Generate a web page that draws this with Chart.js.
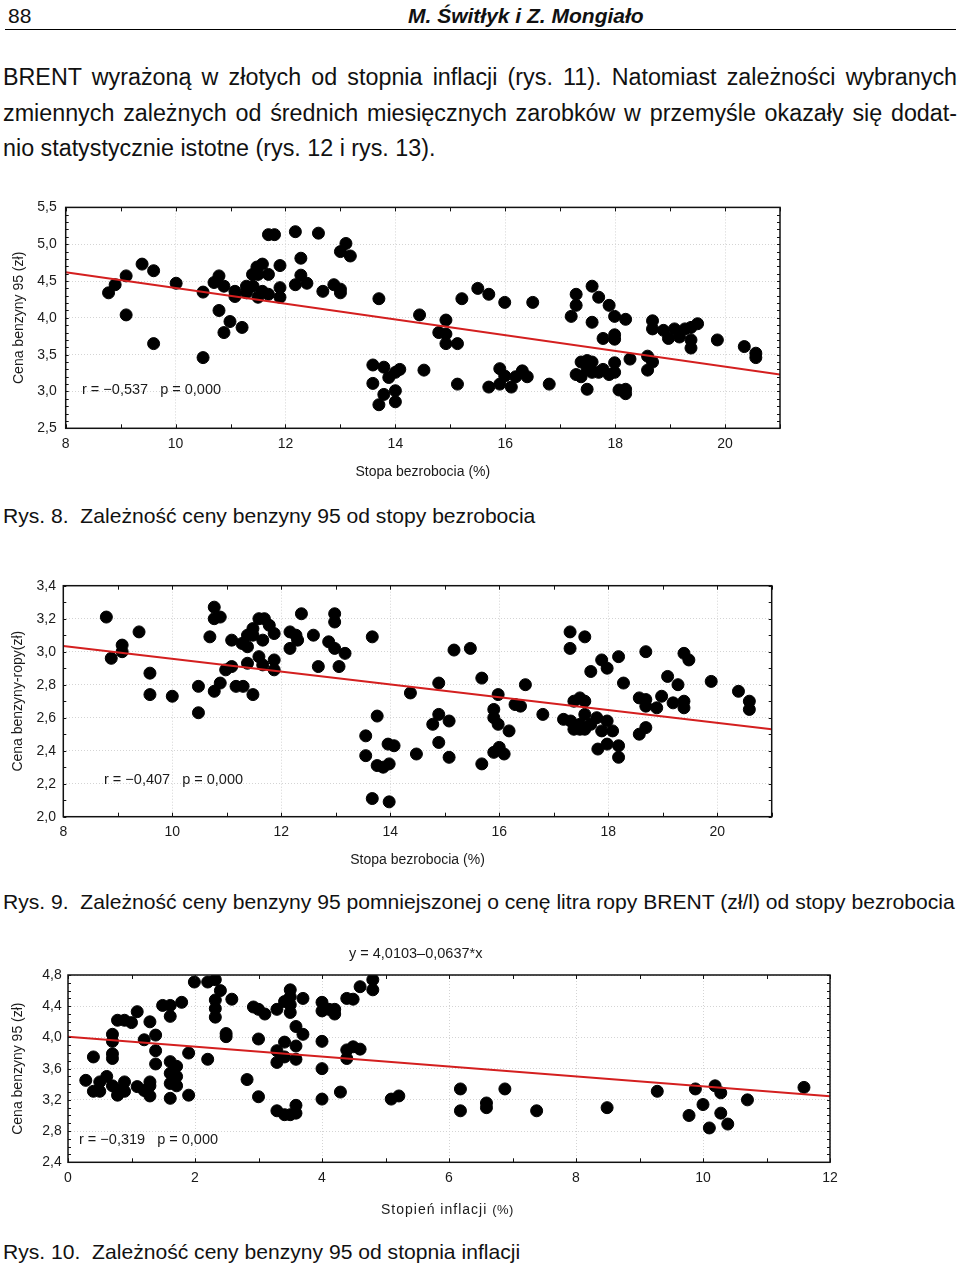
<!DOCTYPE html>
<html>
<head>
<meta charset="utf-8">
<script src="https://cdn.jsdelivr.net/npm/chart.js@4.4.1/dist/chart.umd.min.js"></script>
<style>
html, body { margin: 0; padding: 0; background: #fff; }
body { width: 960px; height: 1264px; position: relative; overflow: hidden; font-family: "Liberation Sans", Arial, sans-serif; color: #111; }
.abs { position: absolute; white-space: pre; }
#pageno { left: 8px; top: 4px; font-size: 21px; line-height: 24px; }
#running { left: 408px; top: 4px; font-size: 21px; line-height: 24px; font-weight: bold; font-style: italic; }
#rule { position: absolute; left: 5px; top: 29px; width: 951px; height: 0; border-top: 1.5px solid #000; }
.line { position: absolute; left: 3px; width: 954px; font-size: 23.3px; line-height: 26px; white-space: nowrap; }
.just { text-align: justify; text-align-last: justify; white-space: normal; }
.cap { font-size: 21.1px; line-height: 24px; left: 3px; }
.note { font-size: 14.5px; line-height: 16px; color: #1a1a1a; }
#xt10 { font-size: 14px; line-height: 16px; letter-spacing: 1px; color: #1a1a1a; }
#xt10 span { font-size: 13px; letter-spacing: 0.5px; }
canvas { position: absolute; }
</style>
</head>
<body>
<div class="abs" id="pageno">88</div>
<div class="abs" id="running">M. Świtłyk i Z. Mongiało</div>
<div id="rule"></div>

<div class="line just" style="top:64px">BRENT wyrażoną w złotych od stopnia inflacji (rys. 11). Natomiast zależności wybranych</div>
<div class="line just" style="top:100px">zmiennych zależnych od średnich miesięcznych zarobków w przemyśle okazały się dodat-</div>
<div class="line" style="top:135px">nio statystycznie istotne (rys. 12 i rys. 13).</div>

<canvas id="fig8" width="800" height="300" style="left:0;top:190px"></canvas>
<div class="abs note" style="left:82px;top:381px">r = −0,537   p = 0,000</div>
<div class="abs cap" style="top:504px">Rys. 8.  Zależność ceny benzyny 95 od stopy bezrobocia</div>

<canvas id="fig9" width="800" height="300" style="left:0;top:570px"></canvas>
<div class="abs note" style="left:104px;top:771px">r = −0,407   p = 0,000</div>
<div class="abs cap" style="top:890px">Rys. 9.  Zależność ceny benzyny 95 pomniejszonej o cenę litra ropy BRENT (zł/l) od stopy bezrobocia</div>

<canvas id="fig10" width="860" height="280" style="left:0;top:940px"></canvas>
<div class="abs note" style="left:349px;top:945px">y = 4,0103–0,0637*x</div>
<div class="abs note" style="left:79px;top:1131px">r = −0,319   p = 0,000</div>
<div class="abs" id="xt10" style="left:381px;top:1201px">Stopień inflacji <span>(%)</span></div>
<div class="abs cap" style="top:1240px">Rys. 10.  Zależność ceny benzyny 95 od stopnia inflacji</div>

<script>
// Rys. 8: stopa bezrobocia (%) vs cena benzyny 95 (zł)
const fig8Points = [
  [8.78,4.34],[8.90,4.45],[9.10,4.57],[9.10,4.04],[9.39,4.73],[9.60,4.64],[9.60,3.65],[10.01,4.47],
  [10.50,4.35],[10.50,3.46],[10.70,4.48],[10.79,4.57],[10.79,4.10],[10.88,4.43],[10.88,3.80],[10.99,3.95],
  [11.08,4.36],[11.08,4.29],[11.21,3.87],[11.29,4.43],[11.29,4.34],[11.41,4.43],[11.40,4.59],[11.48,4.69],
  [11.50,4.59],[11.50,4.28],[11.58,4.73],[11.58,4.36],[11.69,5.13],[11.80,5.13],[11.69,4.59],[11.69,4.32],
  [11.90,4.71],[11.90,4.41],[11.90,4.28],[12.18,5.17],[12.18,4.45],[12.28,4.81],[12.28,4.58],[12.39,4.47],
  [12.60,5.15],[12.68,4.36],[12.88,4.45],[13.00,4.39],[13.00,4.34],[13.00,4.90],[13.10,5.01],[13.18,4.84],
  [13.70,4.26],[13.59,3.36],[13.59,3.11],[13.79,3.33],[13.88,3.19],[13.79,2.96],[13.70,2.82],[14.00,3.26],
  [14.08,3.30],[14.00,3.01],[14.00,2.86],[14.44,4.04],[14.52,3.29],[14.79,3.80],[14.92,3.97],[14.92,3.78],
  [14.92,3.65],[15.13,3.65],[15.13,3.10],[15.21,4.26],[15.50,4.40],[15.70,4.32],[15.70,3.06],[15.99,4.21],
  [15.90,3.31],[15.99,3.21],[15.90,3.10],[16.11,3.06],[16.19,3.20],[16.31,3.28],[16.40,3.20],[16.50,4.21],
  [16.80,3.10],[17.20,4.02],[17.29,4.32],[17.29,4.17],[17.29,3.23],[17.38,3.20],[17.38,3.40],[17.49,3.42],
  [17.49,3.30],[17.49,3.03],[17.58,4.43],[17.58,3.94],[17.58,3.40],[17.58,3.26],[17.70,4.28],[17.70,3.26],
  [17.78,3.72],[17.78,3.30],[17.89,4.17],[17.89,3.23],[17.99,4.02],[17.99,3.77],[17.99,3.71],[17.99,3.39],
  [17.99,3.26],[18.07,3.02],[18.19,3.98],[18.19,3.03],[18.19,2.97],[18.27,3.44],[18.59,3.48],[18.59,3.29],
  [18.68,3.40],[18.68,3.96],[18.68,3.85],[18.88,3.83],[18.97,3.72],[19.08,3.85],[19.17,3.74],[19.27,3.85],
  [19.38,3.87],[19.38,3.70],[19.38,3.59],[19.50,3.92],[19.86,3.70],[20.35,3.61],[20.56,3.52],[20.56,3.46]
];
const fig8Line = [[8, 4.62], [21, 3.23]];
const fig8XTicks = [8, 10, 12, 14, 16, 18, 20];
const fig8YTicks = [2.5, 3.0, 3.5, 4.0, 4.5, 5.0, 5.5];

// Rys. 9: stopa bezrobocia (%) vs cena benzyny minus ropa (zł)
const fig9Points = [
  [8.79,3.21],[8.88,2.96],[9.08,3.04],[9.08,3.00],[9.39,3.12],[9.59,2.87],[9.59,2.74],[10.00,2.73],
  [10.48,2.79],[10.48,2.63],[10.69,3.09],[10.77,3.27],[10.77,3.20],[10.88,3.21],[10.77,2.76],[10.88,2.81],
  [10.98,2.89],[11.09,3.07],[11.09,2.91],[11.17,2.79],[11.30,2.79],[11.28,3.05],[11.38,3.03],[11.38,2.93],
  [11.48,2.74],[11.38,3.10],[11.48,3.14],[11.48,3.10],[11.59,3.20],[11.59,2.97],[11.69,3.20],[11.66,3.07],
  [11.66,2.92],[11.78,3.16],[11.87,3.11],[11.87,2.95],[11.87,2.89],[12.16,3.12],[12.16,3.02],[12.27,3.10],
  [12.30,3.07],[12.37,3.23],[12.59,3.10],[12.68,2.91],[12.87,3.06],[12.98,3.23],[12.98,3.18],[12.98,3.02],
  [13.06,2.91],[13.17,2.99],[13.67,3.09],[13.76,2.61],[13.55,2.49],[13.55,2.37],[13.76,2.31],[13.87,2.30],
  [13.98,2.32],[13.96,2.44],[14.07,2.43],[13.67,2.11],[13.98,2.09],[14.37,2.75],[14.48,2.38],[14.89,2.81],
  [14.89,2.62],[14.89,2.45],[14.78,2.56],[15.08,2.58],[15.08,2.36],[15.17,3.01],[15.47,3.02],[15.68,2.84],
  [15.68,2.32],[15.90,2.65],[15.90,2.60],[15.98,2.74],[15.98,2.56],[15.90,2.39],[16.00,2.42],[16.09,2.38],
  [16.18,2.52],[16.29,2.68],[16.39,2.67],[16.48,2.80],[16.80,2.62],[17.18,2.59],[17.30,3.12],[17.30,3.02],
  [17.31,2.58],[17.37,2.70],[17.37,2.53],[17.48,2.72],[17.48,2.56],[17.48,2.53],[17.57,3.09],[17.57,2.70],
  [17.57,2.62],[17.57,2.53],[17.68,2.88],[17.68,2.56],[17.79,2.60],[17.81,2.41],[17.88,2.95],[17.88,2.52],
  [17.98,2.90],[17.98,2.58],[17.98,2.44],[18.08,2.52],[18.19,2.97],[18.19,2.43],[18.19,2.36],[18.28,2.81],
  [18.57,2.72],[18.57,2.50],[18.69,3.00],[18.69,2.71],[18.69,2.67],[18.69,2.54],[18.89,2.66],[18.98,2.73],
  [19.09,2.85],[19.19,2.69],[19.28,2.80],[19.39,2.99],[19.39,2.70],[19.39,2.66],[19.48,2.95],[19.89,2.82],
  [20.39,2.76],[20.59,2.70],[20.59,2.65]
];
const fig9Line = [[8, 3.035], [21, 2.53]];
const fig9XTicks = [8, 10, 12, 14, 16, 18, 20];
const fig9YTicks = [2.0, 2.2, 2.4, 2.6, 2.8, 3.0, 3.2, 3.4];

// Rys. 10: stopień inflacji (%) vs cena benzyny 95 (zł)
const fig10Points = [
  [0.28,3.45],[0.40,3.75],[0.40,3.31],[0.50,3.31],[0.50,3.43],[0.61,3.50],[0.70,3.38],[0.70,4.04],
  [0.70,3.95],[0.70,3.79],[0.70,3.73],[0.78,3.33],[0.78,3.26],[0.78,4.22],[0.89,4.22],[0.89,3.43],
  [0.89,3.31],[1.00,4.19],[1.09,4.33],[1.09,3.37],[1.20,3.97],[1.20,3.32],[1.29,4.20],[1.29,3.43],
  [1.29,3.38],[1.29,3.25],[1.38,4.03],[1.38,3.83],[1.38,3.66],[1.49,4.41],[1.61,4.41],[1.61,4.27],
  [1.61,3.69],[1.61,3.54],[1.61,3.41],[1.61,3.22],[1.71,3.63],[1.71,3.50],[1.71,3.38],[1.79,4.45],
  [1.90,3.80],[1.90,3.26],[1.99,4.71],[2.20,3.72],[2.20,4.71],[2.32,4.74],[2.32,4.48],[2.32,4.37],
  [2.32,4.26],[2.40,4.60],[2.58,4.49],[2.49,4.05],[2.49,4.01],[2.82,3.46],[2.92,4.39],[3.00,4.36],
  [3.00,3.98],[3.00,3.24],[3.10,4.30],[3.29,4.36],[3.29,3.83],[3.29,3.68],[3.29,3.06],[3.41,3.94],
  [3.41,3.75],[3.41,3.01],[3.41,4.46],[3.50,3.01],[3.50,4.61],[3.50,4.52],[3.50,4.42],[3.50,4.32],
  [3.59,4.14],[3.59,3.89],[3.59,3.72],[3.59,3.13],[3.59,3.03],[3.70,4.04],[3.70,4.50],[4.00,4.45],
  [4.00,4.34],[4.00,3.95],[4.00,3.60],[4.00,3.21],[4.11,4.36],[4.20,4.36],[4.20,4.30],[4.29,3.30],
  [4.39,4.50],[4.39,3.84],[4.39,3.73],[4.49,4.49],[4.49,3.88],[4.60,3.85],[4.60,4.65],[4.80,4.74],
  [4.80,4.61],[5.09,3.21],[5.21,3.25],[6.18,3.34],[6.18,3.06],[6.59,3.16],[6.59,3.10],[6.88,3.34],
  [7.38,3.06],[8.49,3.10],[9.28,3.31],[9.78,3.00],[9.88,3.34],[10.00,3.14],[10.10,2.84],[10.19,3.38],
  [10.28,3.29],[10.28,3.03],[10.39,2.89],[10.70,3.20],[11.59,3.36]
];
const fig10Line = [[0, 4.01], [12, 3.246]];
const fig10XTicks = [0, 2, 4, 6, 8, 10, 12];
const fig10YTicks = [2.4, 2.8, 3.2, 3.6, 4.0, 4.4, 4.8];

Chart.defaults.font.family = '"Liberation Sans", Arial, sans-serif';
Chart.defaults.font.size = 14;
Chart.defaults.color = '#1a1a1a';

function fmt(v, d) {
  return v.toFixed(d).replace('.', ',');
}

// frame around the plot with small inward ticks, like the Statistica output
const framePlugin = {
  id: 'frame',
  afterDraw(chart) {
    const { ctx, chartArea: a, scales: { x, y } } = chart;
    ctx.save();
    ctx.strokeStyle = '#111';
    ctx.lineWidth = 1.5;
    ctx.strokeRect(a.left, a.top, a.right - a.left, a.bottom - a.top);
    ctx.lineWidth = 1;
    ctx.beginPath();
    for (let v = Math.round(y.min * 10); v <= Math.round(y.max * 10); v++) {
      const py = Math.round(y.getPixelForValue(v / 10)) + 0.5;
      ctx.moveTo(a.left, py); ctx.lineTo(a.left + 3, py);
      ctx.moveTo(a.right - 3, py); ctx.lineTo(a.right, py);
    }
    for (let v = Math.round(x.min); v <= Math.round(x.max); v++) {
      const px = Math.round(x.getPixelForValue(v)) + 0.5;
      ctx.moveTo(px, a.top); ctx.lineTo(px, a.top + 4);
      ctx.moveTo(px, a.bottom - 4); ctx.lineTo(px, a.bottom);
    }
    ctx.stroke();
    ctx.restore();
  }
};

function scatterChart(id, o) {
  return new Chart(document.getElementById(id), {
    type: 'scatter',
    data: {
      datasets: [
        {
          type: 'line',
          data: o.line.map(p => ({ x: p[0], y: p[1] })),
          borderColor: '#d41f1f',
          borderWidth: 2,
          pointRadius: 0,
          order: 0
        },
        {
          data: o.points.map(p => ({ x: p[0], y: p[1] })),
          backgroundColor: '#000',
          borderColor: '#000',
          pointRadius: 6,
          order: 1
        }
      ]
    },
    options: {
      responsive: false,
      animation: false,
      devicePixelRatio: 1,
      layout: { padding: { left: 0, top: o.top, right: o.right, bottom: 0 } },
      plugins: { legend: { display: false }, tooltip: { enabled: false } },
      scales: {
        x: {
          type: 'linear',
          min: o.xMin,
          max: o.xMax,
          afterBuildTicks: s => { s.ticks = o.xTicks.map(v => ({ value: v })); },
          afterFit: s => { s.height = o.xAxisH; },
          grid: { color: '#d4d4d4', drawTicks: false },
          border: { display: false, dash: [1, 2] },
          ticks: { padding: o.xPad, callback: v => String(v) },
          title: { display: !!o.xTitle, text: o.xTitle, padding: { top: 0, bottom: o.xTitlePad } }
        },
        y: {
          type: 'linear',
          min: o.yMin,
          max: o.yMax,
          afterBuildTicks: s => { s.ticks = o.yTicks.map(v => ({ value: v })); },
          afterFit: s => { s.width = o.yAxisW; },
          grid: { color: '#d4d4d4', drawTicks: false },
          border: { display: false, dash: [1, 2] },
          ticks: { padding: o.yPad, callback: v => fmt(v, 1) },
          title: { display: true, text: o.yTitle, padding: { top: o.yTitlePad, bottom: 0 } }
        }
      }
    },
    plugins: [framePlugin]
  });
}

scatterChart('fig8', {
  points: fig8Points, line: fig8Line, xTicks: fig8XTicks, yTicks: fig8YTicks,
  xMin: 8, xMax: 21, yMin: 2.5, yMax: 5.5,
  top: 14, right: 20, xAxisH: 61.7, yAxisW: 65.7,
  xPad: 7, yPad: 9, xTitlePad: 9.6, yTitlePad: 10.6,
  xTitle: 'Stopa bezrobocia (%)', yTitle: 'Cena benzyny 95 (zł)'
});

scatterChart('fig9', {
  points: fig9Points, line: fig9Line, xTicks: fig9XTicks, yTicks: fig9YTicks,
  xMin: 8, xMax: 21, yMin: 2.0, yMax: 3.4,
  top: 12.3, right: 28.3, xAxisH: 53.3, yAxisW: 63.3,
  xPad: 7, yPad: 7.3, xTitlePad: 1.6, yTitlePad: 9.6,
  xTitle: 'Stopa bezrobocia (%)', yTitle: 'Cena benzyny-ropy(zł)'
});

// x title of Rys. 10 is letter-spaced, so it is an HTML label (#xt10)
scatterChart('fig10', {
  points: fig10Points, line: fig10Line, xTicks: fig10XTicks, yTicks: fig10YTicks,
  xMin: 0, xMax: 12, yMin: 2.4, yMax: 4.8,
  top: 35, right: 30, xAxisH: 57.7, yAxisW: 68,
  xPad: 7, yPad: 6.3, xTitlePad: 1.6, yTitlePad: 10,
  xTitle: '', yTitle: 'Cena benzyny 95 (zł)'
});
</script>
</body>
</html>
